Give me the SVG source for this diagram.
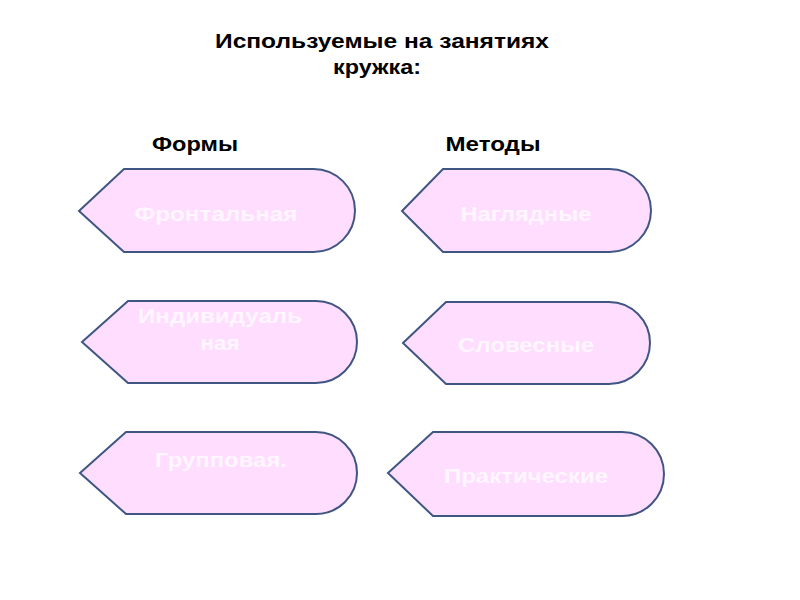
<svg xmlns="http://www.w3.org/2000/svg" width="800" height="600" viewBox="0 0 800 600">
<style>
.shape{fill:#FFDDFF;stroke:#3F5683;stroke-width:2}
.lbl{font-family:"Liberation Sans",Arial,sans-serif;font-weight:bold;font-size:21px;fill:#FFF6FF;text-anchor:middle}
.hdr{font-family:"Liberation Sans",Arial,sans-serif;font-weight:bold;font-size:20px;fill:#000;text-anchor:middle}
</style>
<rect width="800" height="600" fill="#fff"/>
<g id="title">
<text class="hdr" x="382" y="48" textLength="334" lengthAdjust="spacingAndGlyphs">Используемые на занятиях</text>
<text class="hdr" x="377" y="74" textLength="88" lengthAdjust="spacingAndGlyphs">кружка:</text>
</g>
<g id="forms-header"><text class="hdr" x="195" y="151" textLength="86" lengthAdjust="spacingAndGlyphs">Формы</text></g>
<g id="methods-header"><text class="hdr" x="493" y="151" textLength="95" lengthAdjust="spacingAndGlyphs">Методы</text></g>
<g id="frontal">
<path class="shape" d="M79,211 L124,169 L313.5,169 A41.5,41.5 0 0 1 313.5,252 L124,252 Z"/>
<text class="lbl" x="216" y="221" textLength="163" lengthAdjust="spacingAndGlyphs">Фронтальная</text>
</g>
<g id="visual">
<path class="shape" d="M402,211 L443,169 L609.5,169 A41.5,41.5 0 0 1 609.5,252 L443,252 Z"/>
<text class="lbl" x="526" y="221" textLength="131" lengthAdjust="spacingAndGlyphs">Наглядные</text>
</g>
<g id="individual">
<path class="shape" d="M82,342 L128,301 L316,301 A41,41 0 0 1 316,383 L128,383 Z"/>
<text class="lbl" x="220" y="323" textLength="164" lengthAdjust="spacingAndGlyphs">Индивидуаль</text>
<text class="lbl" x="220" y="350" textLength="39" lengthAdjust="spacingAndGlyphs">ная</text>
</g>
<g id="verbal">
<path class="shape" d="M403,343 L446,302 L609,302 A41,41 0 0 1 609,384 L446,384 Z"/>
<text class="lbl" x="526" y="352" textLength="136" lengthAdjust="spacingAndGlyphs">Словесные</text>
</g>
<g id="group">
<path class="shape" d="M80,473 L126,432 L316,432 A41,41 0 0 1 316,514 L126,514 Z"/>
<text class="lbl" x="221" y="467" textLength="132" lengthAdjust="spacingAndGlyphs">Групповая.</text>
</g>
<g id="practical">
<path class="shape" d="M388,473 L433,432 L622,432 A42,42 0 0 1 622,516 L433,516 Z"/>
<text class="lbl" x="526" y="483" textLength="164" lengthAdjust="spacingAndGlyphs">Практические</text>
</g>
</svg>
